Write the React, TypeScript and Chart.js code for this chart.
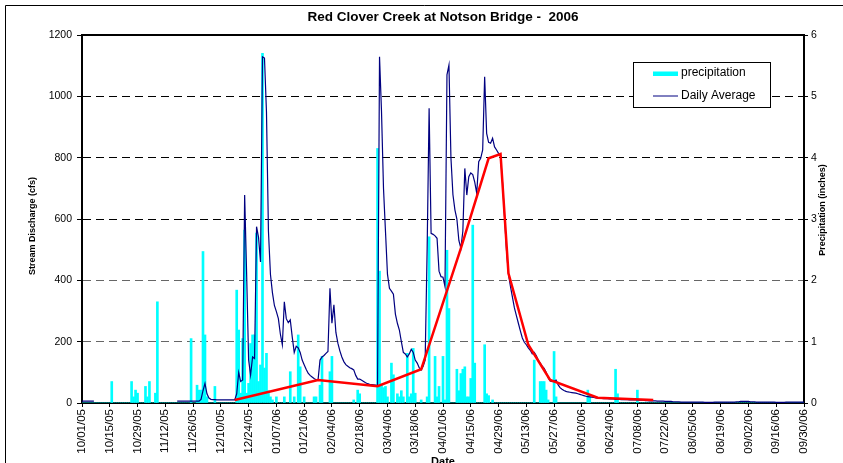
import { useEffect, useRef } from "react";
import { Chart, registerables } from "chart.js";

Chart.register(...registerables);

const FONT = "'Liberation Sans', Arial, Helvetica, sans-serif";
const TITLE = "Red Clover Creek at Notson Bridge -  2006";
const Y_TITLE = "Stream Discharge (cfs)";
const Y2_TITLE = "Precipitation (inches)";
const X_TITLE = "Date";

// Axis labels, one every two weeks starting 10/01/05
const tickLabels = [
  "10/01/05", "10/15/05", "10/29/05", "11/12/05", "11/26/05", "12/10/05", "12/24/05",
  "01/07/06", "01/21/06", "02/04/06", "02/18/06", "03/04/06", "03/18/06", "04/01/06",
  "04/15/06", "04/29/06", "05/13/06", "05/27/06", "06/10/06", "06/24/06", "07/08/06",
  "07/22/06", "08/05/06", "08/19/06", "09/02/06", "09/16/06", "09/30/06",
];
const TICK_EVERY_DAYS = 14;

// Daily average stream discharge (cfs), water year 2006, one list per month
const flowOct05 = [6, 6, 6, 6, 6, 6, 6, null, null, null, null, null, null, null, null, null, null, null, null, null, null, null, null, null, null, null, null, null, null, null, null];
const flowNov05 = [null, null, null, null, null, null, null, null, null, null, null, null, null, null, null, null, null, 6, 6, 6, 6, 6, 6, 6, 6, 6, 6, 6, 6, 12];
const flowDec05 = [40, 64, 30, 16, 12, 11, 11, 10, 10, 10, 10, 10, 10, 10, 10, 10, 10, 30, 100, 70, 75, 678, 420, 140, 91, 150, 145, 575, 540, 460, 1129];
const flowJan06 = [1125, 950, 560, 420, 360, 318, 298, 275, 225, 190, 330, 275, 262, 271, 215, 165, 185, 180, 165, 140, 125, 110, 97, 90, 85, 80, 76, 75, 140, 150, 155];
const flowFeb06 = [162, 168, 374, 260, 320, 230, 195, 170, 150, 135, 125, 120, 115, 112, 108, 90, 78, 78, 74, 70, 66, 63, 61, 60, 59, 58, 57, 1129];
const flowMar06 = [950, 700, 560, 420, 374, 365, 355, 290, 260, 238, 200, 165, 160, 150, 160, 175, 165, 140, 130, 115, 108, 120, 140, 500, 961, 553, 550, 545, 537, 430, 412];
const flowApr06 = [410, 380, 1070, 1102, 800, 680, 630, 600, 530, 505, 560, 765, 678, 738, 750, 745, 720, 684, 787, 798, 825, 1064, 879, 850, 847, 863, 835, 825, 814, 805];
const flowMay06 = [720, 610, 500, 420, 380, 345, 310, 285, 260, 235, 212, 198, 190, 180, 172, 160, 165, 155, 140, 130, 120, 113, 100, 82, 72, 70, 72, 75, 60, 50, 45];
const flowJun06 = [41, 38, 36, 35, 34, 33, 32, 30, 28, 26, 24, 22, 21, 20, 19, 18, 17, 16, 15, 15, 14, 14, 14, 13, 13, 13, 12, 12, 12, 11];
const flowJul06 = [11, 11, 11, 10, 10, 10, 10, 10, 9, 9, 9, 8, 8, 7, 7, 7, 7, 6, 6, 6, 6, 5, 5, 5, 5, 4, 4, 4, 4, 3, 3];
const flowAug06 = [3, 3, 3, 3, 3, 3, 3, 3, 3, 3, 2, 2, 2, 2, 2, 3, 3, 3, 3, 3, 3, 3, 3, 3, 3, 3, 4, 4, 5, 5, 5];
const flowSep06 = [5, 5, 4, 4, 4, 3, 3, 3, 3, 3, 3, 3, 3, 3, 3, 2, 2, 2, 2, 2, 3, 3, 3, 3, 3, 3, 3, 3, 3, 3];

// Daily precipitation (inches), one list per month
const rainOct05 = [0, 0, 0, 0, 0, 0, 0, 0, 0, 0, 0, 0, 0, 0, 0, 0.35, 0, 0, 0, 0, 0, 0, 0, 0, 0, 0.35, 0.1, 0.21, 0.16, 0, 0];
const rainNov05 = [0, 0.27, 0.1, 0.35, 0, 0, 0.16, 1.65, 0, 0, 0, 0, 0, 0, 0, 0, 0, 0, 0, 0, 0, 0, 0, 0, 1.05, 0, 0, 0.29, 0.21, 0.21];
const rainDec05 = [2.47, 1.11, 0.1, 0, 0, 0, 0.27, 0, 0, 0, 0, 0, 0, 0, 0, 0, 0, 1.84, 1.19, 0.16, 1.05, 2.82, 0.16, 0.32, 0.97, 1.11, 1.11, 2.77, 0.35, 0.62, 5.7];
const rainJan06 = [0.57, 0.81, 0.2, 0.1, 0.05, 0, 0.1, 0, 0, 0, 0.1, 0, 0, 0.51, 0, 0.1, 0, 1.11, 0.59, 0, 0.1, 0, 0, 0, 0, 0.1, 0.1, 0, 0.29, 0.76, 0];
const rainFeb06 = [0, 0, 0.51, 0.76, 0, 0, 0, 0, 0, 0, 0, 0, 0, 0, 0.05, 0, 0.21, 0.15, 0, 0, 0, 0, 0, 0, 0, 0, 4.15, 2.15];
const rainMar06 = [0.3, 0.25, 0.27, 0.1, 0, 0.65, 0.46, 0, 0.15, 0.1, 0.2, 0.1, 0, 0.81, 0.1, 0.15, 0.89, 0.16, 0, 0, 0.05, 0, 0, 0.1, 2.71, 0, 0, 0.76, 0.1, 0.27, 0];
const rainApr06 = [0.76, 0.05, 2.49, 1.54, 0, 0, 0, 0.55, 0.2, 0.48, 0.55, 0.59, 0.1, 0.1, 0.4, 2.9, 0.65, 0, 0, 0, 0, 0.95, 0.15, 0.12, 0, 0.05, 0, 0, 0, 0];
const rainMay06 = [0, 0, 0, 0, 0, 0, 0, 0, 0, 0, 0, 0, 0, 0, 0, 0, 0.7, 0, 0, 0.35, 0.35, 0.35, 0.21, 0.05, 0, 0, 0.84, 0.1, 0, 0, 0];
const rainJun06 = [0, 0, 0, 0, 0, 0, 0, 0, 0, 0, 0, 0, 0.21, 0.1, 0, 0, 0, 0, 0, 0, 0, 0, 0, 0, 0, 0, 0.55, 0.15, 0, 0];
const rainJul06 = [0, 0, 0, 0, 0, 0, 0, 0.21, 0, 0, 0, 0, 0, 0, 0, 0, 0, 0, 0, 0, 0, 0, 0, 0, 0, 0, 0, 0, 0, 0, 0];
const rainAug06 = [0, 0, 0, 0, 0, 0, 0, 0, 0, 0, 0, 0, 0, 0, 0, 0, 0, 0, 0, 0, 0, 0, 0, 0, 0, 0, 0, 0, 0, 0, 0];
const rainSep06 = [0, 0, 0, 0, 0, 0, 0, 0, 0, 0, 0, 0, 0, 0, 0, 0, 0, 0, 0, 0, 0, 0, 0, 0, 0, 0, 0, 0, 0, 0];

// Field-measured discharge: day of water year and flow (cfs)
const measuredDays = [77, 119, 149, 171, 191, 205, 211, 215, 225, 236, 260, 288];
const measuredFlow = [10, 75, 55, 110, 504, 798, 812, 423, 190, 75, 17, 10];

const dailyFlow = [
  ...flowOct05, ...flowNov05, ...flowDec05, ...flowJan06, ...flowFeb06, ...flowMar06,
  ...flowApr06, ...flowMay06, ...flowJun06, ...flowJul06, ...flowAug06, ...flowSep06,
];
const dailyRain = [
  ...rainOct05, ...rainNov05, ...rainDec05, ...rainJan06, ...rainFeb06, ...rainMar06,
  ...rainApr06, ...rainMay06, ...rainJun06, ...rainJul06, ...rainAug06, ...rainSep06,
];

const NAVY = "#000080";
const CYAN = "#00ffff";
const RED = "#ff0000";

const decorPlugin = {
  id: "decor",
  beforeDraw(chart: any) {
    const { ctx, width, height } = chart;
    ctx.save();
    ctx.fillStyle = "#ffffff";
    ctx.fillRect(0, 0, width, height);
    // outer frame
    ctx.strokeStyle = "#000000";
    ctx.lineWidth = 1;
    ctx.beginPath();
    ctx.moveTo(5.5, height);
    ctx.lineTo(5.5, 5.5);
    ctx.lineTo(width, 5.5);
    ctx.stroke();
    ctx.restore();
  },
  afterDraw(chart: any) {
    const { ctx, chartArea: a } = chart;
    ctx.save();
    // top edge of the plot area
    ctx.strokeStyle = "#000000";
    ctx.lineWidth = 2;
    ctx.beginPath();
    ctx.moveTo(a.left - 1, a.top);
    ctx.lineTo(a.right + 1, a.top);
    ctx.stroke();

    ctx.fillStyle = "#000000";
    ctx.textAlign = "center";
    ctx.textBaseline = "middle";
    ctx.font = `bold 13.5px ${FONT}`;
    ctx.fillText(TITLE, (a.left + a.right) / 2, 17);

    ctx.font = `bold 9px ${FONT}`;
    ctx.save();
    ctx.translate(33, 226);
    ctx.rotate(-Math.PI / 2);
    ctx.fillText(Y_TITLE, 0, 0);
    ctx.restore();
    ctx.save();
    ctx.translate(823, 210);
    ctx.rotate(-Math.PI / 2);
    ctx.fillText(Y2_TITLE, 0, 0);
    ctx.restore();

    ctx.font = `bold 11px ${FONT}`;
    ctx.textBaseline = "top";
    ctx.fillText(X_TITLE, (a.left + a.right) / 2, 456);

    // legend box
    const lx = 633.5, ly = 62.5, lw = 137, lh = 45;
    ctx.fillStyle = "#ffffff";
    ctx.fillRect(lx, ly, lw, lh);
    ctx.strokeStyle = "#000000";
    ctx.lineWidth = 1;
    ctx.strokeRect(lx, ly, lw, lh);
    ctx.fillStyle = CYAN;
    ctx.fillRect(653, 71.5, 25, 4.5);
    ctx.strokeStyle = NAVY;
    ctx.lineWidth = 1;
    ctx.beginPath();
    ctx.moveTo(653, 96);
    ctx.lineTo(678, 96);
    ctx.stroke();
    ctx.fillStyle = "#000000";
    ctx.textAlign = "left";
    ctx.textBaseline = "middle";
    ctx.font = `12px ${FONT}`;
    ctx.fillText("precipitation", 681, 73);
    ctx.fillText("Daily Average", 681, 96);
    ctx.restore();
  },
};

export default function App() {
  const canvasRef = useRef<HTMLCanvasElement | null>(null);

  useEffect(() => {
    const canvas = canvasRef.current;
    if (!canvas) return;

    const gridColor = (c: any) => {
      const v = c.tick ? c.tick.value : null;
      if (v === 0 || v === 1200) return "rgba(0,0,0,0)";
      return v !== null && v <= 400 ? "#666666" : "#000000";
    };

    const chart = new Chart(canvas, {
      type: "line",
      data: {
        datasets: [
          {
            type: "line",
            label: "measured",
            data: measuredDays.map((d, i) => ({ x: d, y: measuredFlow[i] })),
            borderColor: RED,
            borderWidth: 2.5,
            pointRadius: 0,
            tension: 0,
            yAxisID: "y",
            order: 0,
          },
          {
            type: "line",
            label: "Daily Average",
            data: dailyFlow.map((v, i) => ({ x: i, y: v })),
            borderColor: NAVY,
            borderWidth: 1.2,
            pointRadius: 0,
            tension: 0,
            spanGaps: false,
            yAxisID: "y",
            order: 1,
          },
          {
            type: "bar",
            label: "precipitation",
            data: dailyRain.map((v, i) => ({ x: i, y: v })),
            backgroundColor: CYAN,
            borderWidth: 0,
            barThickness: 2,
            yAxisID: "y2",
            order: 2,
          },
        ],
      } as any,
      options: {
        responsive: false,
        devicePixelRatio: 1,
        animation: false,
        events: [],
        layout: { padding: { top: 35, left: 0, right: 0, bottom: 0 } },
        plugins: {
          legend: { display: false },
          title: { display: false },
          tooltip: { enabled: false },
        },
        scales: {
          x: {
            type: "linear",
            min: 0,
            max: (tickLabels.length - 1) * TICK_EVERY_DAYS,
            offset: false,
            afterBuildTicks: (s: any) => {
              s.ticks = tickLabels.map((_, i) => ({ value: i * TICK_EVERY_DAYS }));
            },
            afterFit: (s: any) => {
              s.height = 60;
            },
            ticks: {
              autoSkip: false,
              minRotation: 90,
              maxRotation: 90,
              padding: 2,
              color: "#000000",
              font: { family: FONT, size: 11.5 },
              callback: (v: any) => tickLabels[Math.round(Number(v) / TICK_EVERY_DAYS)],
            },
            grid: {
              offset: false,
              drawOnChartArea: false,
              drawTicks: true,
              tickLength: 4,
              tickColor: "#000000",
              tickWidth: 1,
            },
            border: { display: true, color: "#000000", width: 2 },
          },
          y: {
            type: "linear",
            position: "left",
            min: 0,
            max: 1200,
            afterFit: (s: any) => {
              s.width = 82;
            },
            ticks: {
              stepSize: 200,
              padding: 5,
              color: "#000000",
              font: { family: FONT, size: 10.5 },
              callback: (v: any) => String(v),
            },
            grid: {
              color: gridColor,
              lineWidth: 1,
              drawTicks: true,
              tickLength: 5,
              tickColor: "#000000",
              tickWidth: 1,
            },
            border: { display: true, color: "#000000", width: 2, dash: [8, 5] },
          },
          y2: {
            type: "linear",
            position: "right",
            min: 0,
            max: 6,
            afterFit: (s: any) => {
              s.width = 39;
            },
            ticks: {
              stepSize: 1,
              padding: 3,
              color: "#000000",
              font: { family: FONT, size: 10.5 },
              callback: (v: any) => String(v),
            },
            grid: {
              drawOnChartArea: false,
              drawTicks: true,
              tickLength: 4,
              tickColor: "#000000",
              tickWidth: 1,
            },
            border: { display: true, color: "#000000", width: 2 },
          },
        },
      } as any,
      plugins: [decorPlugin],
    });

    return () => chart.destroy();
  }, []);

  return (
    <div style={{ position: "absolute", left: 0, top: 0, width: 843, height: 463, overflow: "hidden" }}>
      <canvas ref={canvasRef} width={843} height={463} style={{ display: "block", width: 843, height: 463 }} />
    </div>
  );
}
